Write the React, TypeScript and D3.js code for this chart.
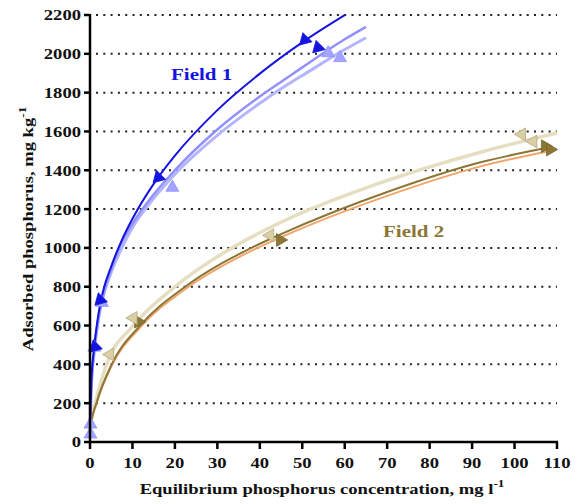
import React from 'react';
import * as d3 from 'd3';

type P = [number, number];

const xTicks = [0, 10, 20, 30, 40, 50, 60, 70, 80, 90, 100, 110];
const yTicks = [0, 200, 400, 600, 800, 1000, 1200, 1400, 1600, 1800, 2000, 2200];

// Field 1 fitted curves (C, q)
const f1DarkCurve: P[] = [[0.02, 110], [0.3, 300], [1, 490], [2, 660], [3, 770], [5, 905], [7.5, 1040], [10, 1150], [15, 1330], [20, 1475], [30, 1710], [40, 1898], [50, 2059], [60, 2199]];
const f1LightCurveA: P[] = [[0.02, 90], [0.3, 280], [1, 470], [2, 640], [3, 750], [5, 890], [7.5, 1030], [10, 1125], [15, 1275], [20, 1400], [30, 1610], [40, 1780], [46, 1870], [50, 1930], [60, 2075], [65, 2139]];
const f1LightCurveB: P[] = [[0.02, 85], [0.3, 275], [1, 465], [2, 632], [3, 740], [5, 875], [7.5, 1000], [10, 1105], [15, 1255], [20, 1380], [30, 1580], [40, 1745], [46, 1834], [50, 1888], [60, 2022], [65, 2083]];

// Field 2 fitted curves
const f2BeigeCurve: P[] = [[0.05, 60], [0.3, 120], [1.2, 200], [3.9, 400], [10.2, 600], [20, 800], [33.4, 1000], [45, 1132], [68, 1332], [92, 1493], [110, 1592]];
const f2OliveCurve: P[] = [[0.05, 50], [0.3, 100], [1.5, 200], [5.1, 400], [11.8, 600], [22.4, 800], [38, 1000], [45, 1071], [70, 1288], [92, 1441], [108, 1517]];
const f2OrangeCurve: P[] = [[0.05, 45], [0.3, 95], [1.5, 195], [5.1, 392], [11.8, 590], [22.4, 787], [38, 985], [45, 1055], [70, 1268], [92, 1420], [109.5, 1505]];

// Observed points
const f1DarkPoints: P[] = [[1.2, 490], [2.4, 732], [16.1, 1363], [50.6, 2072], [53.7, 2032]];
const f1LightPoints: P[] = [[0.1, 91], [0.1, 40], [1.0, 487], [2.8, 718], [19.4, 1311], [56.1, 2004], [58.9, 1979]];
const f2BeigePoints: P[] = [[4.7, 451], [10.2, 639], [42.4, 1065], [101.7, 1585], [104.4, 1548]];
const f2OlivePoints: P[] = [[11.4, 620], [44.8, 1041], [107.2, 1524], [108.4, 1507]];

const SERIF = '"Liberation Serif", "Times New Roman", serif';
const SX = 1.2;

export default function App() {
  const x = d3.scaleLinear().domain([0, 110]).range([90, 557]);
  const y = d3.scaleLinear().domain([0, 2200]).range([442, 15]);
  const line = d3.line<P>().x(d => x(d[0])).y(d => y(d[1])).curve(d3.curveMonotoneX);
  const tri = d3.symbol().type(d3.symbolTriangle).size(72)();

  const markers = (pts: P[], fill: string, stroke: string, rot: number, key: string) =>
    pts.map((d, i) => (
      <path key={key + i} d={tri || ''} fill={fill} stroke={stroke} strokeWidth={0.8}
        transform={`translate(${x(d[0])},${y(d[1])}) rotate(${rot})`} />
    ));

  return (
    <svg width={581} height={504} style={{ position: 'absolute', left: 0, top: 0, background: '#fff' }}
      fontFamily={SERIF} fontWeight="bold">
      {/* grid */}
      {yTicks.filter(t => t > 0).map(t => (
        <line key={'g' + t} x1={96} x2={557} y1={y(t)} y2={y(t)} stroke="#222" strokeWidth={2}
          strokeDasharray="2 5.3" />
      ))}

      {/* Field 2 curves */}
      <path d={line(f2BeigeCurve) || ''} fill="none" stroke="#e6dec0" strokeWidth={3.5} />
      <path d={line(f2OrangeCurve) || ''} fill="none" stroke="#f2a56a" strokeWidth={2} />
      <path d={line(f2OliveCurve) || ''} fill="none" stroke="#8c7636" strokeWidth={2} />
      {markers(f2OlivePoints, '#8c7636', '#7a6630', 90, 'o')}
      {markers(f2BeigePoints, '#d9cfa6', '#b8aa78', 270, 'b')}

      {/* Field 1 curves */}
      <path d={line(f1LightCurveB) || ''} fill="none" stroke="#b4b4ff" strokeWidth={3} />
      <path d={line(f1LightCurveA) || ''} fill="none" stroke="#9090ff" strokeWidth={2.5} />
      <path d={line(f1DarkCurve) || ''} fill="none" stroke="#1414e0" strokeWidth={2} />
      {markers(f1LightPoints, '#a4a4ff', '#9090ff', 0, 'l')}
      {markers(f1DarkPoints, '#1414e0', '#1414e0', 225, 'd')}

      {/* axes */}
      <line x1={90} x2={90} y1={14} y2={443} stroke="#000" strokeWidth={2.5} />
      <line x1={89} x2={558} y1={442} y2={442} stroke="#000" strokeWidth={2.5} />
      {yTicks.map(t => (
        <g key={'y' + t}>
          <line x1={84} x2={90} y1={y(t)} y2={y(t)} stroke="#000" strokeWidth={2.5} />
          <text transform={`translate(81,${y(t)}) scale(${SX},1)`} textAnchor="end" dy="0.35em"
            fontSize={15.5} fill="#111">{t}</text>
        </g>
      ))}
      {xTicks.map(t => (
        <g key={'x' + t}>
          <line x1={x(t)} x2={x(t)} y1={442} y2={449} stroke="#000" strokeWidth={2.5} />
          <text transform={`translate(${x(t)},468) scale(${SX},1)`} textAnchor="middle"
            fontSize={15.5} fill="#111">{t}</text>
        </g>
      ))}

      {/* axis titles */}
      <text transform={`translate(322,494) scale(${SX},1)`} textAnchor="middle" fontSize={15.5} fill="#111">
        Equilibrium phosphorus concentration, mg l<tspan fontSize={11} dy={-7}>-1</tspan>
      </text>
      <text transform={`translate(33,229) rotate(-90) scale(${SX},1)`} textAnchor="middle" fontSize={15.5} fill="#111">
        Adsorbed phosphorus, mg kg<tspan fontSize={11} dy={-7}>-1</tspan>
      </text>

      {/* field labels */}
      <text transform={`translate(171,80) scale(${SX},1)`} fontSize={17.5} fill="#1414e0">Field 1</text>
      <text transform={`translate(383,237) scale(${SX},1)`} fontSize={17.5} fill="#8c7636">Field 2</text>
    </svg>
  );
}
